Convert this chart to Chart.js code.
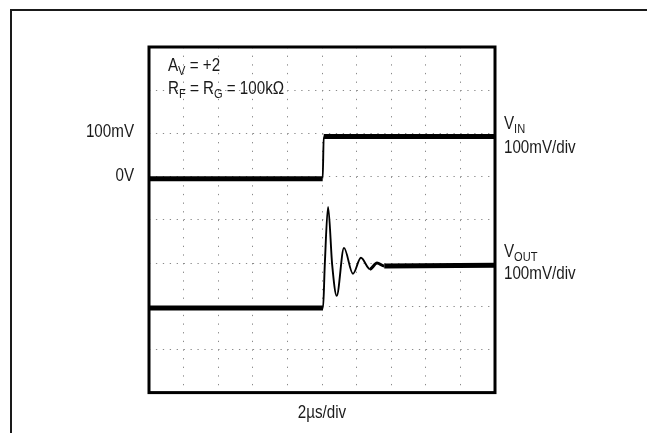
<!DOCTYPE html>
<html>
<head>
<meta charset="utf-8">
<script src="https://cdn.jsdelivr.net/npm/chart.js@4.4.1/dist/chart.umd.min.js"></script>
<style>
  html, body { margin: 0; padding: 0; background: #fff; }
  canvas { display: block; }
</style>
</head>
<body>
<canvas id="scope" width="647" height="433"></canvas>
<script>
// time in microseconds (2us/div, 10 divisions), level in mV as shown on screen (100mV/div)
const vinTime = [0, 10.04, 10.1, 20];
const vinMv = [-5, -5, 93, 93];
const voutTime = [0, 10.06, 10.16, 10.35, 10.59, 10.85, 11.27, 11.79, 12.25, 12.77, 13.18, 13.6, 20];
const voutMv = [-304, -304, -205, -70, -205, -276, -165, -225, -188, -214, -200, -207, -205];
const yLabels = [[100, "100mV"], [0, "0V"]];

const FONT = "'Liberation Sans', Arial, sans-serif";
const SQUEEZE = 0.82; // narrow face look
const INK = "#1a1a1a";

const toPoints = (xs, ys) => xs.map((x, i) => ({ x: x, y: ys[i] }));

// flat (noisy) parts of the traces look thick, the edges/ringing thin
const traceWidth = (ctx) => {
  if (ctx.p1.parsed.x - ctx.p0.parsed.x > 1.5) return 5;
  if (ctx.p0.parsed.x >= 12.7) return 3;
  return 1.9;
};

function narrowText(ctx, t, x, y, size, align) {
  ctx.save();
  ctx.translate(x, y);
  ctx.scale(SQUEEZE, 1);
  ctx.font = size + "px " + FONT;
  ctx.textAlign = align || "left";
  ctx.fillText(t, 0, 0);
  const w = ctx.measureText(t).width * SQUEEZE;
  ctx.restore();
  return w;
}

function subText(ctx, x, y, parts) {
  parts.forEach(([t, sub]) => {
    x += narrowText(ctx, t, x, sub ? y + 4 : y, sub ? 13.5 : 18.5);
  });
}

const frame = {
  id: "frame",
  beforeDraw(chart) {
    const ctx = chart.ctx;
    ctx.save();
    ctx.strokeStyle = INK;
    ctx.lineWidth = 2;
    ctx.beginPath();
    ctx.moveTo(11, chart.height);
    ctx.lineTo(11, 10);
    ctx.lineTo(chart.width, 10);
    ctx.stroke();
    ctx.restore();
  },
  afterDatasetsDraw(chart) {
    const { ctx, chartArea: a } = chart;
    const yv = chart.scales.y;
    ctx.save();
    ctx.strokeStyle = "#000";
    ctx.lineWidth = 3;
    ctx.strokeRect(a.left, a.top, a.right - a.left, a.bottom - a.top);

    ctx.fillStyle = INK;
    ctx.textBaseline = "alphabetic";

    subText(ctx, a.left + 19, a.top + 24, [["A", 0], ["V", 1], [" = +2", 0]]);
    subText(ctx, a.left + 19, a.top + 47, [["R", 0], ["F", 1], [" = R", 0], ["G", 1], [" = 100k\u03a9", 0]]);

    yLabels.forEach(([v, t]) => {
      narrowText(ctx, t, a.left - 15, yv.getPixelForValue(v) + 4, 18.5, "right");
    });

    const lx = a.right + 9;
    const vinY = yv.getPixelForValue(vinMv[vinMv.length - 1]);
    const voutY = yv.getPixelForValue(voutMv[voutMv.length - 1]);
    subText(ctx, lx, vinY - 7, [["V", 0], ["IN", 1]]);
    subText(ctx, lx, vinY + 17, [["100mV/div", 0]]);
    subText(ctx, lx, voutY - 8, [["V", 0], ["OUT", 1]]);
    subText(ctx, lx, voutY + 14, [["100mV/div", 0]]);

    narrowText(ctx, "2\u00b5s/div", (a.left + a.right) / 2, a.bottom + 25, 18.5, "center");
    ctx.restore();
  }
};

new Chart(document.getElementById("scope"), {
  type: "line",
  data: {
    datasets: [
      { label: "VIN", data: toPoints(vinTime, vinMv) },
      { label: "VOUT", data: toPoints(voutTime, voutMv) }
    ]
  },
  options: {
    responsive: false,
    animation: false,
    events: [],
    layout: { padding: { left: 0, top: 47, right: 152, bottom: 40.4 } },
    elements: {
      point: { radius: 0 },
      line: {
        borderColor: "#000",
        borderWidth: 1.9,
        cubicInterpolationMode: "monotone",
        capBezierPoints: true
      }
    },
    datasets: {
      line: { segment: { borderWidth: traceWidth } }
    },
    plugins: { legend: { display: false }, tooltip: { enabled: false } },
    scales: {
      x: {
        type: "linear",
        min: 0,
        max: 20,
        ticks: { stepSize: 2, display: false },
        grid: { color: "#8a8a8a", lineWidth: 1, drawTicks: false },
        border: { display: false, dash: [1.3, 7.34] },
        afterFit: (s) => { s.height = 0; }
      },
      y: {
        type: "linear",
        min: -500,
        max: 300,
        ticks: { stepSize: 100, display: false },
        grid: { color: "#8a8a8a", lineWidth: 1, drawTicks: false },
        border: { display: false, dash: [1.3, 5.62] },
        afterFit: (s) => { s.width = 149; }
      }
    }
  },
  plugins: [frame]
});
</script>
</body>
</html>
